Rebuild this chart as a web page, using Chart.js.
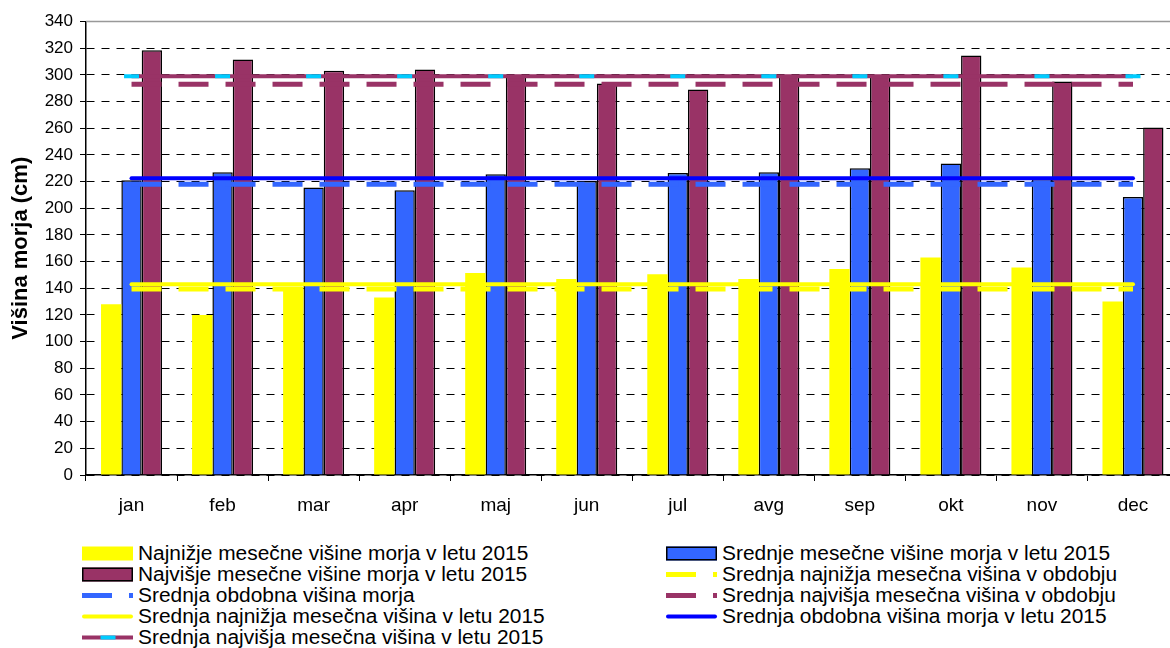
<!DOCTYPE html>
<html>
<head>
<meta charset="utf-8">
<title>Višina morja 2015</title>
<script src="https://cdn.jsdelivr.net/npm/chart.js@4.4.1/dist/chart.umd.min.js"></script>
<style>
    html, body { margin: 0; padding: 0; background: #fff; overflow: hidden; }
    #wrap { position: relative; width: 1170px; height: 648px; overflow: hidden; }
    #sea-chart { position: absolute; left: 0; top: 0; }
    .legend-col {
        position: absolute;
        top: 543px;
        font-family: "Liberation Sans", Arial, sans-serif;
        font-size: 20px;
        color: #000;
    }
    #legend-left { left: 82px; }
    #legend-right { left: 666px; }
    .legend-item { display: flex; align-items: center; height: 21px; white-space: nowrap; }
    .legend-item canvas { margin-right: 4px; flex: none; }
    .legend-item span { display: inline-block; transform: scaleX(1.045); transform-origin: left center; }
</style>
</head>
<body>
<div id="wrap">
    <canvas id="sea-chart" width="1190" height="530"></canvas>
    <div id="legend-left" class="legend-col"></div>
    <div id="legend-right" class="legend-col"></div>
</div>
<script>
const months = ["jan", "feb", "mar", "apr", "maj", "jun", "jul", "avg", "sep", "okt", "nov", "dec"];

// mesečne višine morja 2015 (cm)
const najnizje2015 = [128, 120, 141, 133, 151.5, 147, 150.5, 147, 154.5, 163, 155.5, 130];
const srednje2015 = [221, 227, 215.5, 213.5, 225.5, 220.5, 226.5, 227, 230, 233.5, 222, 208.5];
const najvisje2015 = [318.5, 311.5, 303, 304, 300, 293.5, 289, 299, 299, 314.5, 295, 260.5];

// povprečja - vodoravne črte
const srNajnizjaObdobje = [139.5, 139.5, 139.5, 139.5, 139.5, 139.5, 139.5, 139.5, 139.5, 139.5, 139.5, 139.5];
const srObdobna = [218, 218, 218, 218, 218, 218, 218, 218, 218, 218, 218, 218];
const srNajvisjaObdobje = [293, 293, 293, 293, 293, 293, 293, 293, 293, 293, 293, 293];
const srNajnizja2015 = [143, 143, 143, 143, 143, 143, 143, 143, 143, 143, 143, 143];
const srObdobna2015 = [222.5, 222.5, 222.5, 222.5, 222.5, 222.5, 222.5, 222.5, 222.5, 222.5, 222.5, 222.5];
const srNajvisja2015 = [299, 299, 299, 299, 299, 299, 299, 299, 299, 299, 299, 299];

const yellow = "#FFFF00";
const blue = "#3366FF";
const maroon = "#993366";
const darkBlue = "#0000FF";
const cyan = "#00CCFF";
const dash = [30, 17];

Chart.defaults.font.family = '"Liberation Sans", Arial, sans-serif';
Chart.defaults.color = "#000";

function bars(label, data, color, border) {
    return {
        type: "bar",
        label,
        data,
        backgroundColor: color,
        borderColor: "#000",
        borderWidth: border,
        borderSkipped: "start",
        categoryPercentage: 0.67,
        barPercentage: 1,
        order: 2
    };
}

function flatLine(label, data, color, width, dashed) {
    return {
        type: "line",
        label,
        data,
        borderColor: color,
        backgroundColor: color,
        borderWidth: width,
        borderDash: dashed ? dash : [],
        borderCapStyle: dashed ? "butt" : "round",
        pointRadius: 0,
        fill: false,
        tension: 0,
        order: 1
    };
}

const topBorder = {
    id: "topBorder",
    beforeDatasetsDraw(chart) {
        const { ctx, chartArea } = chart;
        ctx.save();
        ctx.strokeStyle = "#999";
        ctx.lineWidth = 1.5;
        ctx.beginPath();
        ctx.moveTo(chartArea.left, chartArea.top);
        ctx.lineTo(chartArea.right, chartArea.top);
        ctx.stroke();
        ctx.restore();
    }
};

const maxLine = flatLine("Srednja najvišja mesečna višina v letu 2015", srNajvisja2015, maroon, 4, false);
maxLine.borderCapStyle = "butt";
maxLine.pointStyle = "line";
maxLine.pointRadius = 7.5;
maxLine.pointBorderColor = cyan;
maxLine.pointBorderWidth = 4;
maxLine.pointHoverRadius = 7.5;

const datasets = [
    bars("Najnižje mesečne višine morja v letu 2015", najnizje2015, yellow, 0),
    bars("Srednje mesečne višine morja v letu 2015", srednje2015, blue, 1.5),
    bars("Najvišje mesečne višine morja v letu 2015", najvisje2015, maroon, 1.5),
    flatLine("Srednja najnižja mesečna višina v obdobju", srNajnizjaObdobje, yellow, 5, true),
    flatLine("Srednja obdobna višina morja", srObdobna, blue, 5, true),
    flatLine("Srednja najvišja mesečna višina v obdobju", srNajvisjaObdobje, maroon, 5, true),
    flatLine("Srednja najnižja mesečna višina v letu 2015", srNajnizja2015, yellow, 4, false),
    flatLine("Srednja obdobna višina morja v letu 2015", srObdobna2015, darkBlue, 4, false),
    maxLine
];

const ctx = document.getElementById("sea-chart").getContext("2d");
const seaChart = new Chart(ctx, {
    data: { labels: months, datasets },
    options: {
        responsive: false,
        animation: false,
        devicePixelRatio: 1,
        layout: { padding: { top: 21.5, right: 2, bottom: 0, left: 0 } },
        plugins: {
            legend: { display: false },
            tooltip: { enabled: false }
        },
        scales: {
            x: {
                afterFit: function (scale) { scale.height = 55; },
                grid: { drawOnChartArea: false, drawTicks: true, tickLength: 6, tickColor: "#000", offset: true },
                border: { color: "#000", width: 1.5 },
                ticks: { font: { size: 19 }, color: "#000", padding: 13 }
            },
            y: {
                min: 0,
                max: 340,
                afterFit: function (scale) { scale.width = 86; },
                ticks: { stepSize: 20, font: { size: 17 }, color: "#000", padding: 7 },
                grid: {
                    color: c => (c.tick && c.tick.value === 340 ? "rgba(0,0,0,0)" : "#000"),
                    lineWidth: 1,
                    tickLength: 6,
                    tickColor: "#000"
                },
                border: { color: "#000", width: 1.5, dash: [8, 7] },
                title: {
                    display: true,
                    text: "Višina morja (cm)",
                    font: { size: 22, weight: "bold" },
                    color: "#000",
                    padding: { top: 8, bottom: 0 }
                }
            }
        }
    },
    plugins: [topBorder]
});

function drawSwatch(sctx, ds) {
    if (ds.type === "line") {
        const round = ds.borderCapStyle === "round";
        const inset = round ? ds.borderWidth / 2 : 0;
        sctx.strokeStyle = ds.borderColor;
        sctx.lineWidth = ds.borderWidth;
        sctx.lineCap = round ? "round" : "butt";
        sctx.setLineDash(ds.borderDash || []);
        sctx.beginPath();
        sctx.moveTo(inset, 10.5);
        sctx.lineTo(51 - inset, 10.5);
        sctx.stroke();
        if (ds.pointStyle === "line") {
            sctx.setLineDash([]);
            sctx.lineCap = "butt";
            sctx.strokeStyle = ds.pointBorderColor;
            sctx.lineWidth = ds.pointBorderWidth;
            sctx.beginPath();
            sctx.moveTo(26 - ds.pointRadius, 10.5);
            sctx.lineTo(26 + ds.pointRadius, 10.5);
            sctx.stroke();
        }
    } else {
        sctx.fillStyle = ds.backgroundColor;
        sctx.fillRect(0, 3.5, 51, 14);
        if (ds.borderWidth) {
            sctx.lineWidth = ds.borderWidth;
            sctx.strokeStyle = ds.borderColor;
            sctx.strokeRect(0.75, 4.25, 49.5, 12.5);
        }
    }
}

function buildLegend(chart) {
    const cols = [document.querySelector("#legend-left"), document.querySelector("#legend-right")];
    chart.data.datasets.forEach((ds, i) => {
        const item = document.createElement("div");
        item.className = "legend-item";
        const swatch = document.createElement("canvas");
        swatch.width = 52;
        swatch.height = 21;
        drawSwatch(swatch.getContext("2d"), ds);
        const label = document.createElement("span");
        label.textContent = ds.label;
        item.appendChild(swatch);
        item.appendChild(label);
        cols[i % 2].appendChild(item);
    });
}

buildLegend(seaChart);
</script>
</body>
</html>
